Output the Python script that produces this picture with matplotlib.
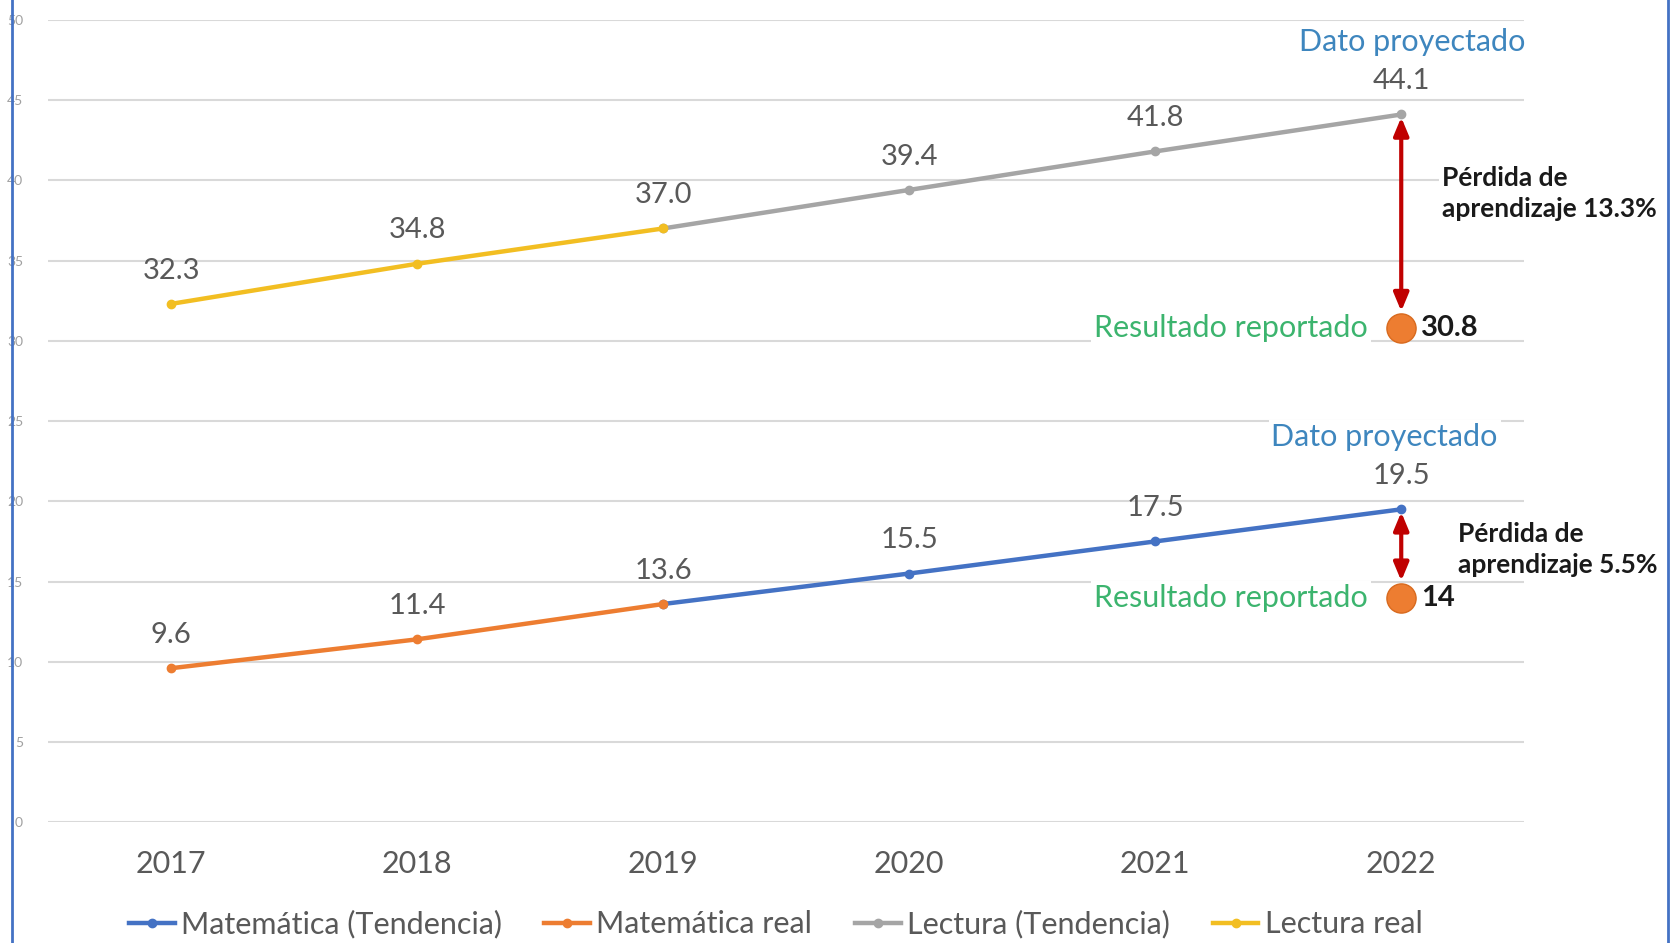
import matplotlib.pyplot as plt
from matplotlib.patches import Rectangle

plt.rcParams['font.family'] = ['Lato', 'DejaVu Sans']

# Data
years = ['2017', '2018', '2019', '2020', '2021', '2022']
mat_real = [9.6, 11.4, 13.6]
mat_trend = [13.6, 15.5, 17.5, 19.5]
lec_real = [32.3, 34.8, 37.0]
lec_trend = [37.0, 39.4, 41.8, 44.1]
lec_reported = 30.8
mat_reported = 14
lec_loss = '13.3%'
mat_loss = '5.5%'

BLUE = '#4472C4'
ORANGE = '#ED7D31'
GRAY = '#A5A5A5'
YELLOW = '#F2BE22'
RED = '#C00000'
LABEL = '#595959'

fig = plt.figure(figsize=(16.75, 9.43), dpi=100)
ax = fig.add_axes([0.0287, 0.128, 0.8813, 0.851])

x_real = list(range(len(lec_real)))
x_trend = list(range(len(lec_real) - 1, len(years)))

ax.plot(x_trend, mat_trend, color=BLUE, lw=3.2, marker='o', ms=6, label='Matemática (Tendencia)', zorder=3)
ax.plot(x_real, mat_real, color=ORANGE, lw=3.2, marker='o', ms=6, label='Matemática real', zorder=3)
ax.plot(x_trend, lec_trend, color=GRAY, lw=3.2, marker='o', ms=6, label='Lectura (Tendencia)', zorder=3)
ax.plot(x_real, lec_real, color=YELLOW, lw=3.2, marker='o', ms=6, label='Lectura real', zorder=3)

# data labels
series = [(x_real, lec_real), (x_trend[1:], lec_trend[1:]),
          (x_real, mat_real), (x_trend[1:], mat_trend[1:])]
for xs, ys in series:
    for xv, yv in zip(xs, ys):
        ax.annotate(f'{yv:.1f}', (xv, yv), xytext=(0, 24), textcoords='offset points',
                    ha='center', va='center', fontsize=21, color=LABEL, zorder=4)

last = len(years) - 1
white = dict(facecolor='white', edgecolor='none', pad=2)

for proj, rep, loss, dato_dx, loss_dx, loss_dy in [(lec_trend[-1], lec_reported, lec_loss, 8, 29, 20),
                                                   (mat_trend[-1], mat_reported, mat_loss, -12, 41, 3)]:
    # reported result
    ax.plot([last], [rep], 'o', ms=21, color=ORANGE, mec='#D86A1E', mew=1, zorder=5)
    ax.annotate(f'{rep:g}', (last, rep), xytext=(14, 0), textcoords='offset points',
                ha='left', va='center', fontsize=21, fontweight='bold', color='#1a1a1a')
    ax.annotate('Resultado reportado', (last, rep), xytext=(-24, 0), textcoords='offset points',
                ha='right', va='center', fontsize=22, color='#3CB46E', bbox=white, zorder=4)
    # projected label
    ax.annotate('Dato proyectado', (last, proj), xytext=(dato_dx, 52), textcoords='offset points',
                ha='center', va='center', fontsize=22, color='#3E86BE', bbox=white, zorder=4)
    # loss arrow
    ax.annotate('', xy=(last, rep), xytext=(last, proj),
                arrowprops=dict(arrowstyle='<|-|>,head_length=0.6,head_width=0.25', color=RED,
                                lw=3, mutation_scale=18, shrinkA=2, shrinkB=12), zorder=4)
    ax.annotate(f'Pérdida de\naprendizaje {loss}', (last, (proj + rep) / 2), xytext=(loss_dx, loss_dy),
                textcoords='offset points', ha='left', va='center', fontsize=19,
                fontweight='bold', color='#1a1a1a', linespacing=1.35, bbox=white,
                annotation_clip=False, zorder=4)

ax.set_xlim(-0.5, 5.5)
ax.set_ylim(0, 50)
ax.set_yticks(range(0, 51, 5))
ax.set_xticks(range(len(years)))
ax.set_xticklabels(years)
ax.tick_params(axis='x', length=0, labelsize=22, labelcolor=LABEL, pad=20)
ax.tick_params(axis='y', length=0, labelsize=10, labelcolor='#A0A0A0', pad=18)
ax.grid(axis='y', color='#D9D9D9', lw=1.5)
ax.set_axisbelow(True)
for s in ax.spines.values():
    s.set_visible(False)

fig.legend(loc='center', bbox_to_anchor=(0.463, 0.02), ncol=4, frameon=False,
           fontsize=22, labelcolor=LABEL, handlelength=1.5, handletextpad=0.2,
           columnspacing=1.4, borderaxespad=0)

# blue frame of the screenshot
fig.patches.append(Rectangle((12 / 1675, -0.02), 1656 / 1675, 1.04, transform=fig.transFigure,
                             fill=False, edgecolor=BLUE, lw=2))

fig.savefig('out.png', dpi=100)
